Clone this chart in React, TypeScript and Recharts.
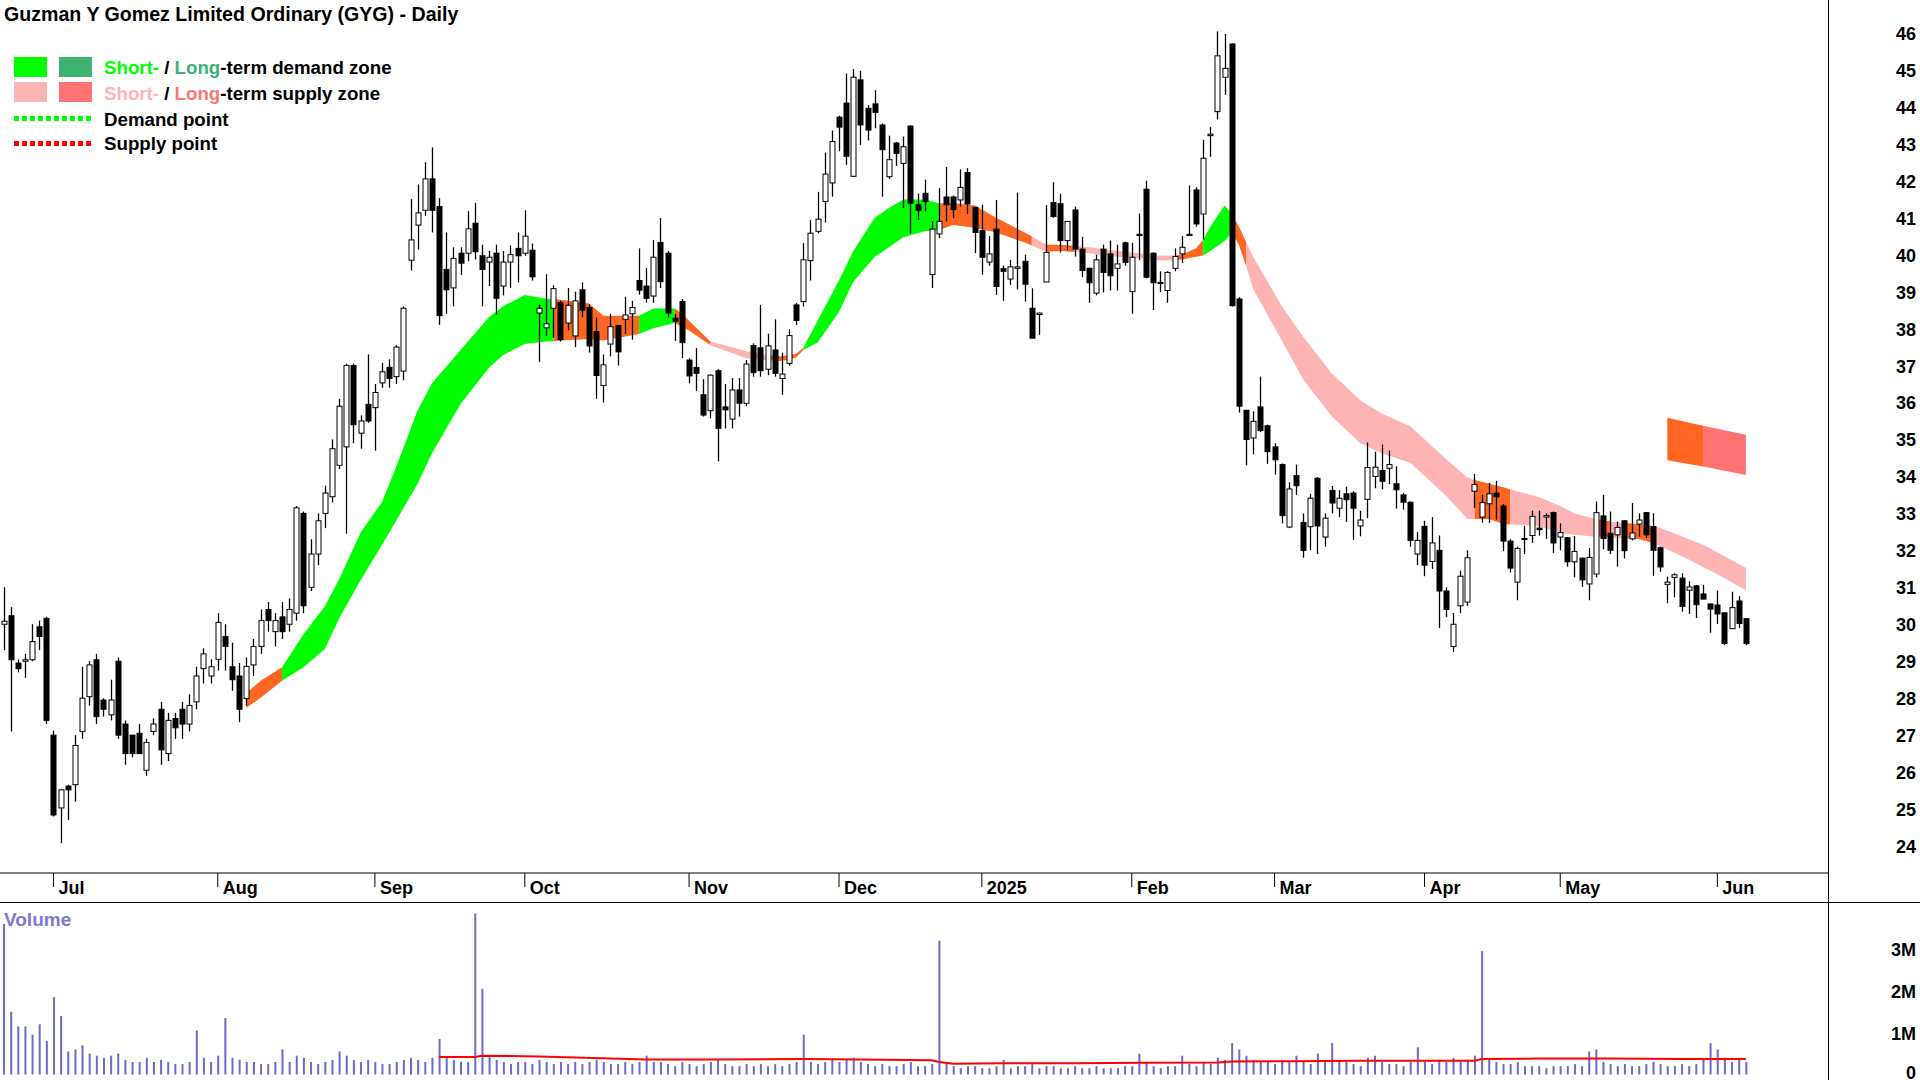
import React from "react";
import { Area, Bar, ComposedChart, Line, XAxis, YAxis } from "recharts";

const FONT = "'Liberation Sans', Arial, Helvetica, sans-serif";

// daily candles, 20 Jun 2024 .. 6 Jun 2025 (index = trading day)
const opens = [
  30.0, 30.23, 28.95, 29.0, 29.04, 29.93, 30.16, 27.0, 25.03, 25.62, 25.66, 27.1, 28.04, 29.04, 27.95, 27.55, 29.0, 27.3, 27.0, 27.05,
  26.05, 27.1, 27.7, 26.5, 27.45, 27.7, 27.3, 27.9, 28.8, 28.6, 29.05, 29.67, 28.85, 28.6, 27.99, 28.9, 29.4, 30.4, 29.8, 30.2,
  30.0, 30.3, 33.0, 31.0, 31.9, 33.0, 33.45, 34.3, 34.8, 37.0, 35.17, 35.95, 35.86, 36.53, 36.95, 36.7, 36.85, 39.85, 40.8, 41.2,
  42.05, 41.3, 39.6, 39.1, 40.04, 40.04, 40.85, 39.97, 39.8, 40.04, 39.15, 39.8, 40.17, 40.04, 40.12, 38.42, 38.02, 38.55, 38.7, 38.15,
  37.8, 39.05, 38.57, 37.92, 36.46, 37.58, 38.08, 38.25, 38.4, 39.3, 39.15, 38.88, 40.33, 40.04, 38.28, 38.73, 37.15, 36.95, 36.21, 35.78,
  36.86, 35.88, 35.55, 36.34, 35.98, 37.54, 37.48, 36.9, 37.42, 36.65, 37.06, 38.64, 38.73, 39.84, 40.63, 41.44, 41.94, 43.72, 44.1, 42.12,
  44.73, 43.96, 44.08, 43.51, 42.11, 43.02, 42.47, 43.48, 41.35, 41.66, 39.46, 40.56, 41.56, 41.56, 41.48, 42.22, 41.28, 40.65, 39.8, 40.69,
  39.62, 39.34, 39.63, 39.82, 38.55, 38.38, 39.26, 41.41, 41.38, 40.38, 41.21, 40.15, 39.63, 38.96, 40.15, 40.02, 39.63, 40.32, 39.0, 40.52,
  41.77, 40.04, 39.25, 39.03, 39.63, 40.02, 40.52, 41.75, 41.1, 43.22, 43.87, 44.8, 45.7, 38.8, 35.79, 35.04, 35.88, 35.37, 34.8, 34.32,
  32.63, 34.02, 32.75, 32.64, 33.95, 32.36, 33.62, 33.14, 33.53, 33.55, 32.66, 33.38, 34.0, 34.16, 34.22, 33.8, 33.5, 33.3, 31.9, 32.65,
  31.7, 32.0, 30.9, 29.4, 30.5, 30.6, 33.6, 32.9, 33.26, 33.55, 33.2, 32.25, 31.14, 32.3, 32.4, 32.6, 32.9, 33.02, 32.36, 32.34,
  31.69, 31.79, 31.09, 31.36, 32.93, 32.46, 32.42, 32.8, 32.31, 32.71, 33.02, 32.64, 32.07, 31.08, 31.27, 31.25, 30.92, 31.04, 30.82, 30.55,
  30.52, 30.31, 29.88, 30.63, 30.15,
];
const highs = [
  31.0, 30.46, 29.05, 29.2, 30.0, 30.1, 30.2, 27.12, 25.52, 25.66, 27.0, 28.85, 29.0, 29.2, 28.0, 28.5, 29.1, 27.4, 27.0, 27.3,
  26.9, 27.45, 27.9, 27.6, 27.6, 27.9, 28.1, 28.85, 29.35, 29.05, 30.3, 30.0, 29.5, 28.95, 29.1, 29.6, 30.4, 30.6, 30.3, 30.6,
  30.7, 33.2, 33.05, 32.3, 33.0, 33.75, 35.0, 36.1, 37.05, 37.05, 35.65, 37.3, 36.5, 37.07, 37.17, 37.55, 38.6, 41.5, 41.9, 42.5,
  42.9, 41.53, 40.6, 40.2, 40.2, 41.18, 41.4, 40.27, 40.1, 40.27, 40.1, 40.25, 40.6, 41.2, 40.3, 38.65, 39.47, 39.17, 38.75, 39.1,
  39.0, 39.25, 38.65, 38.3, 37.3, 38.4, 38.1, 38.86, 38.75, 40.17, 39.64, 40.4, 40.99, 40.1, 38.4, 38.8, 37.2, 37.47, 36.63, 36.76,
  36.9, 36.5, 36.66, 36.66, 37.15, 37.6, 38.64, 37.86, 38.25, 37.35, 37.98, 38.69, 40.31, 40.94, 41.7, 42.76, 43.36, 43.76, 44.9, 45.02,
  44.97, 44.05, 44.45, 43.55, 43.22, 43.05, 43.2, 43.5, 41.65, 42.03, 40.9, 41.8, 42.37, 41.6, 42.31, 42.34, 41.3, 41.35, 40.5, 41.48,
  39.7, 39.86, 41.68, 40.0, 39.09, 38.43, 41.34, 41.96, 41.65, 40.9, 41.3, 40.48, 39.65, 40.0, 40.27, 40.38, 40.27, 40.35, 40.32, 41.11,
  42.0, 40.06, 39.55, 39.55, 40.17, 40.5, 41.87, 41.82, 43.11, 43.45, 46.04, 45.97, 45.72, 38.85, 35.8, 35.76, 36.7, 35.4, 34.9, 34.35,
  33.84, 34.32, 33.0, 33.53, 33.98, 33.0, 33.74, 33.63, 33.72, 33.6, 33.07, 34.92, 34.67, 34.86, 34.7, 34.27, 33.55, 33.32, 32.5, 32.8,
  32.9, 32.4, 31.0, 30.3, 31.45, 32.0, 34.07, 33.5, 33.82, 33.88, 33.25, 32.3, 32.1, 32.66, 33.07, 33.07, 33.0, 33.05, 32.73, 32.36,
  32.39, 31.8, 32.06, 33.32, 33.5, 33.05, 32.78, 32.82, 33.28, 33.0, 33.03, 33.0, 32.1, 31.29, 31.38, 31.38, 31.16, 31.06, 31.06, 30.56,
  30.91, 30.32, 30.88, 30.76, 30.16,
];
const lows = [
  29.3, 27.1, 28.7, 28.55, 29.0, 29.3, 27.3, 24.8, 24.08, 24.7, 25.2, 26.9, 27.8, 27.3, 27.5, 27.4, 26.9, 26.2, 26.4, 26.5,
  25.9, 27.0, 26.2, 26.3, 26.9, 26.9, 27.1, 27.7, 28.4, 28.4, 28.75, 28.75, 28.2, 27.35, 27.8, 28.6, 29.2, 29.8, 29.4, 29.6,
  29.8, 30.1, 30.3, 30.9, 31.6, 32.6, 33.3, 34.2, 32.45, 34.9, 34.75, 35.45, 34.7, 36.4, 36.4, 36.5, 36.6, 39.57, 40.14, 41.05,
  40.6, 38.1, 38.4, 38.6, 39.45, 39.82, 39.87, 38.6, 39.15, 38.38, 38.9, 39.1, 39.25, 39.97, 39.3, 37.1, 37.8, 37.75, 37.65, 37.95,
  37.5, 38.3, 37.35, 36.1, 36.0, 37.25, 37.0, 37.85, 37.7, 38.92, 38.7, 38.7, 39.1, 38.3, 37.67, 37.2, 36.52, 36.31, 35.62, 35.57,
  34.41, 35.3, 35.3, 35.62, 35.9, 36.7, 36.7, 36.74, 36.7, 36.21, 37.0, 38.1, 38.6, 39.3, 40.58, 40.87, 41.57, 42.8, 42.43, 42.1,
  42.97, 43.09, 43.42, 41.57, 42.05, 42.4, 41.26, 40.58, 40.94, 41.17, 39.1, 40.45, 40.9, 40.99, 41.3, 41.1, 40.04, 39.46, 39.7, 38.91,
  38.75, 39.18, 39.06, 38.73, 37.74, 37.83, 39.26, 41.0, 40.06, 40.12, 39.95, 39.39, 38.7, 38.9, 38.98, 39.03, 39.03, 39.7, 38.4, 39.85,
  39.36, 38.5, 38.99, 38.7, 39.55, 39.77, 40.5, 40.76, 40.41, 42.65, 43.66, 44.32, 38.6, 35.73, 34.3, 34.6, 35.2, 34.34, 34.05, 32.73,
  32.6, 33.5, 31.8, 32.0, 31.9, 32.1, 33.0, 32.9, 32.77, 32.28, 32.38, 32.87, 33.68, 33.65, 33.79, 33.13, 33.1, 32.1, 31.6, 31.3,
  31.5, 29.9, 30.2, 29.25, 30.3, 30.5, 33.15, 32.75, 32.74, 32.83, 31.98, 31.4, 30.65, 31.9, 32.2, 32.4, 32.31, 31.93, 32.0, 31.56,
  31.27, 31.01, 30.65, 31.27, 32.03, 31.9, 31.56, 31.78, 32.27, 32.37, 32.33, 31.31, 31.42, 30.57, 30.73, 30.34, 30.28, 30.17, 30.68, 29.77,
  30.01, 29.44, 29.88, 29.9, 29.44,
];
const closes = [
  30.08, 29.04, 28.8, 29.04, 29.53, 29.67, 27.4, 24.84, 25.52, 25.52, 26.72, 28.0, 28.9, 27.5, 27.7, 27.95, 27.0, 26.5, 26.5, 26.5,
  26.8, 27.3, 26.6, 27.4, 27.2, 27.3, 27.8, 28.6, 29.2, 28.85, 30.05, 29.4, 28.5, 27.7, 28.86, 29.4, 30.1, 30.1, 30.1, 29.8,
  30.4, 33.15, 30.5, 31.9, 32.8, 33.55, 34.75, 35.9, 37.0, 35.4, 35.5, 35.5, 36.27, 36.83, 36.65, 37.5, 38.55, 40.4, 41.13, 42.05,
  41.2, 38.35, 39.05, 39.9, 39.77, 40.7, 40.08, 39.6, 39.93, 38.82, 39.8, 40.0, 39.97, 40.5, 39.4, 38.55, 38.13, 39.08, 37.7, 38.63,
  38.75, 38.5, 37.53, 36.73, 37.02, 38.05, 37.37, 38.37, 38.57, 39.04, 38.82, 39.93, 39.27, 38.42, 38.2, 37.62, 36.72, 36.79, 35.66, 36.74,
  35.3, 35.8, 36.34, 35.98, 37.04, 36.81, 36.86, 37.53, 36.79, 36.77, 37.81, 38.22, 39.86, 40.58, 40.96, 42.18, 43.06, 43.45, 42.66, 44.8,
  43.51, 43.37, 43.85, 42.84, 42.57, 42.74, 42.92, 41.39, 41.2, 41.44, 40.69, 40.9, 41.35, 41.22, 41.82, 41.37, 40.6, 39.93, 40.02, 39.14,
  39.55, 39.67, 39.67, 39.2, 37.74, 38.42, 40.06, 41.03, 40.38, 40.9, 40.15, 39.57, 39.24, 39.86, 39.52, 39.43, 39.75, 39.79, 39.93, 40.55,
  39.39, 39.24, 39.22, 39.52, 39.95, 40.2, 40.55, 40.83, 42.61, 43.26, 45.38, 45.04, 38.62, 35.9, 35.0, 35.49, 35.24, 34.67, 34.45, 32.94,
  33.66, 33.75, 32.0, 33.41, 32.66, 32.87, 33.28, 33.41, 33.37, 33.14, 32.82, 34.24, 34.25, 33.87, 34.32, 33.64, 33.3, 32.27, 32.27, 31.6,
  32.2, 30.9, 30.4, 30.0, 31.3, 31.8, 33.78, 33.29, 33.53, 33.45, 32.25, 31.52, 32.05, 32.32, 32.92, 32.56, 32.94, 32.2, 32.48, 31.69,
  31.97, 31.2, 31.81, 33.02, 32.32, 32.0, 32.62, 31.99, 32.47, 32.82, 32.42, 32.0, 31.55, 31.14, 31.34, 30.48, 31.01, 30.53, 30.68, 30.41,
  30.28, 29.48, 30.45, 30.02, 29.48,
];
// millions of shares
const volumes = [
  3.6, 1.5, 1.15, 1.15, 0.95, 1.2, 0.8, 1.85, 1.4, 0.55, 0.6, 0.7, 0.5, 0.45, 0.4, 0.45, 0.5, 0.35, 0.3, 0.3,
  0.4, 0.3, 0.35, 0.3, 0.25, 0.25, 0.3, 1.05, 0.4, 0.3, 0.45, 1.35, 0.4, 0.35, 0.3, 0.3, 0.25, 0.25, 0.3, 0.6,
  0.3, 0.45, 0.4, 0.3, 0.25, 0.3, 0.35, 0.55, 0.45, 0.35, 0.3, 0.35, 0.3, 0.25, 0.25, 0.3, 0.35, 0.4, 0.35, 0.3,
  0.4, 0.85, 0.4, 0.35, 0.3, 0.3, 3.85, 2.05, 0.45, 0.35, 0.3, 0.25, 0.3, 0.3, 0.25, 0.35, 0.3, 0.25, 0.3, 0.25,
  0.3, 0.25, 0.3, 0.35, 0.3, 0.25, 0.25, 0.3, 0.25, 0.3, 0.45, 0.3, 0.3, 0.25, 0.2, 0.3, 0.25, 0.2, 0.25, 0.3,
  0.35, 0.25, 0.2, 0.2, 0.25, 0.2, 0.25, 0.2, 0.25, 0.2, 0.25, 0.3, 0.95, 0.3, 0.25, 0.3, 0.35, 0.3, 0.35, 0.4,
  0.3, 0.25, 0.2, 0.25, 0.2, 0.2, 0.25, 0.3, 0.2, 0.2, 0.25, 3.2, 0.3, 0.2, 0.15, 0.2, 0.2, 0.15, 0.15, 0.2,
  0.35, 0.15, 0.2, 0.2, 0.25, 0.15, 0.2, 0.2, 0.15, 0.15, 0.2, 0.15, 0.15, 0.2, 0.15, 0.15, 0.15, 0.2, 0.2, 0.5,
  0.3, 0.2, 0.15, 0.2, 0.2, 0.45, 0.25, 0.2, 0.3, 0.25, 0.4, 0.35, 0.75, 0.6, 0.45, 0.35, 0.3, 0.3, 0.25, 0.35,
  0.3, 0.45, 0.3, 0.25, 0.5, 0.3, 0.75, 0.35, 0.3, 0.25, 0.2, 0.4, 0.45, 0.3, 0.25, 0.25, 0.2, 0.3, 0.65, 0.3,
  0.25, 0.35, 0.3, 0.4, 0.3, 0.35, 0.45, 2.95, 0.35, 0.3, 0.25, 0.25, 0.3, 0.2, 0.2, 0.2, 0.15, 0.2, 0.2, 0.2,
  0.25, 0.2, 0.55, 0.6, 0.3, 0.25, 0.2, 0.25, 0.2, 0.2, 0.25, 0.3, 0.25, 0.2, 0.2, 0.25, 0.2, 0.25, 0.35, 0.75,
  0.6, 0.4, 0.3, 0.35, 0.3,
];

const SLOTS = 256;
const monthStarts = [7, 30, 52, 73, 96, 117, 137, 158, 178, 199, 218, 240];
const monthNames = ["Jul", "Aug", "Sep", "Oct", "Nov", "Dec", "2025", "Feb", "Mar", "Apr", "May", "Jun"];
const priceTicks = [24, 25, 26, 27, 28, 29, 30, 31, 32, 33, 34, 35, 36, 37, 38, 39, 40, 41, 42, 43, 44, 45, 46];
const volumeTicks = [0, 1e6, 2e6, 3e6];

const GREEN = "#00ff00";
const DARK_GREEN = "#3cb371";
const ORANGE = "#ff6622";
const PINK = "#ffb4b4";
const SALMON = "#ff7373";

// short-term zone outline (read at these trading days)
const zoneIdx = [
  34, 36, 39, 42, 45, 47, 50, 53, 55, 58, 60, 64, 68, 70, 73, 76, 77, 78, 82, 84, 89, 91, 94, 95, 96, 99, 104, 107, 109, 111,
  112, 114, 117, 119, 122, 124, 126, 129, 131, 133, 136, 139, 143, 144, 146, 148, 150, 152, 156, 159, 162, 164, 165, 167, 168, 169,
  171, 172, 173, 174, 175, 179, 182, 186, 190, 193, 197, 202, 205, 206, 208, 210, 211, 215, 218, 220, 223, 225, 227, 229, 231, 232,
  236, 238, 240, 244,
];
const zoneHigh = [
  28.14, 28.47, 28.84, 29.73, 30.49, 31.22, 32.48, 33.31, 34.27, 35.79, 36.52, 37.42, 38.31, 38.61, 38.91, 38.81, 38.8, 38.78, 38.68, 38.35,
  38.35, 38.54, 38.54, 38.41, 38.21, 37.65, 37.39, 37.28, 37.25, 37.32, 37.48, 38.21, 39.31, 40.1, 41.0, 41.26, 41.49, 41.49, 41.39, 41.4,
  41.33, 41.0, 40.6, 40.5, 40.27, 40.27, 40.24, 40.2, 40.1, 40.04, 39.97, 39.98, 40.0, 40.17, 40.4, 40.76, 41.33, 41.1, 40.76, 40.35,
  39.94, 38.61, 37.78, 36.79, 36.06, 35.7, 35.36, 34.47, 33.97, 33.9, 33.81, 33.71, 33.65, 33.44, 33.2, 33.0, 32.85, 32.78, 32.74, 32.71,
  32.65, 32.61, 32.3, 32.15, 31.95, 31.52,
];
const zoneLow = [
  27.74, 28.01, 28.47, 28.84, 29.33, 30.16, 31.19, 32.15, 32.81, 33.81, 34.63, 35.96, 36.95, 37.29, 37.58, 37.65, 37.66, 37.68, 37.72, 37.68,
  37.85, 38.01, 38.15, 38.05, 37.95, 37.55, 37.2, 37.14, 37.12, 37.22, 37.42, 37.62, 38.45, 39.27, 39.94, 40.2, 40.47, 40.63, 40.67, 40.8,
  40.73, 40.6, 40.33, 40.25, 40.08, 40.1, 40.07, 40.04, 39.94, 39.9, 39.84, 39.85, 39.87, 39.94, 39.98, 40.1, 40.37, 40.6, 40.27, 39.7,
  39.07, 37.68, 36.62, 35.63, 34.9, 34.63, 34.37, 33.48, 32.85, 32.85, 32.85, 32.71, 32.7, 32.65, 32.47, 32.42, 32.37, 32.34, 32.32, 32.31,
  32.2, 32.12, 31.75, 31.55, 31.35, 30.92,
];
const zoneSegments: [number, number, string][] = [
  [34, 39, ORANGE], [39, 77, GREEN], [77, 89, ORANGE], [89, 94, GREEN], [94, 99, ORANGE], [99, 107, PINK],
  [107, 112, ORANGE], [112, 131, GREEN], [131, 144, ORANGE], [144, 146, PINK], [146, 150, ORANGE], [150, 164, PINK],
  [164, 168, ORANGE], [168, 172, GREEN], [172, 174, ORANGE], [174, 206, PINK], [206, 211, ORANGE], [211, 223, PINK],
  [223, 225, ORANGE], [225, 227, PINK], [227, 231, ORANGE], [231, 244, PINK],
];

// long-term supply zone
const ltIdx = [233, 238, 244];
const ltHigh = [35.59, 35.37, 35.13];
const ltLow = [34.44, 34.27, 34.04];
const ltSegments: [number, number, string][] = [[233, 238, ORANGE], [238, 244, SALMON]];

// average volume line (millions)
const avgVolIdx = [61, 66, 67, 75, 85, 90, 100, 112, 120, 130, 131, 133, 140, 150, 160, 170, 172, 180, 190, 200, 206, 207, 215, 225, 235, 244];
const avgVol = [0.42, 0.42, 0.45, 0.43, 0.38, 0.36, 0.36, 0.37, 0.36, 0.34, 0.3, 0.26, 0.27, 0.27, 0.28, 0.29, 0.31, 0.32, 0.33, 0.33, 0.33, 0.37, 0.38, 0.38, 0.37, 0.37];

const zoneAt = new Map(zoneIdx.map((d, k) => [d, [zoneLow[k], zoneHigh[k]]]));
const ltAt = new Map(ltIdx.map((d, k) => [d, [ltLow[k], ltHigh[k]]]));
const avgAt = new Map(avgVolIdx.map((d, k) => [d, avgVol[k] * 1e6]));

const rows = Array.from({ length: SLOTS }, (_, i) => {
  const row: any = { i };
  if (i < opens.length) {
    row.o = opens[i];
    row.h = highs[i];
    row.l = lows[i];
    row.c = closes[i];
    row.range = [lows[i], highs[i]];
    row.vol = volumes[i] * 1e6;
  }
  zoneSegments.forEach(([a, b], k) => {
    row["z" + k] = i >= a && i <= b && zoneAt.has(i) ? zoneAt.get(i) : null;
  });
  ltSegments.forEach(([a, b], k) => {
    row["s" + k] = i >= a && i <= b && ltAt.has(i) ? ltAt.get(i) : null;
  });
  row.avg = avgAt.has(i) ? avgAt.get(i) : null;
  return row;
});

function Candle(props: any) {
  const { x, y, width, height, payload } = props;
  if (!payload || payload.o == null) return <g />;
  const { o, h, l, c } = payload;
  const cx = Math.round(x + width / 2) + 0.5;
  const span = h - l;
  const py = (v: number) => (span > 0 ? y + ((h - v) / span) * height : y);
  const top = py(Math.max(o, c));
  const bot = py(Math.min(o, c));
  const up = c >= o;
  return (
    <g>
      <line x1={cx} x2={cx} y1={y} y2={y + height} stroke="#000" strokeWidth={1.3} />
      <rect
        x={cx - 2.5}
        y={top}
        width={5}
        height={Math.max(bot - top, 1)}
        fill={up ? "#fff" : "#000"}
        stroke="#000"
        strokeWidth={1}
      />
    </g>
  );
}

function MonthTick(props: any) {
  const { x, payload } = props;
  const k = monthStarts.indexOf(payload.value);
  if (k < 0) return <g />;
  return (
    <g>
      <line x1={x} x2={x} y1={873} y2={887} stroke="#000" strokeWidth={1} />
      <text x={x + 5} y={894} fontFamily={FONT} fontWeight="bold" fontSize={18} fill="#000">
        {monthNames[k]}
      </text>
    </g>
  );
}

function PriceTick(props: any) {
  const { y, payload } = props;
  return (
    <text x={1916} y={y + 7} textAnchor="end" fontFamily={FONT} fontWeight="bold" fontSize={18} fill="#000">
      {payload.value}
    </text>
  );
}

function VolTick(props: any) {
  const { y, payload } = props;
  const v = payload.value;
  return (
    <text
      x={1916}
      y={v === 0 ? 175 : y + 7}
      textAnchor="end"
      fontFamily={FONT}
      fontWeight="bold"
      fontSize={18}
      fill="#000"
    >
      {v === 0 ? "0" : v / 1e6 + "M"}
    </text>
  );
}

const legendText: React.CSSProperties = {
  position: "absolute",
  left: 104,
  fontFamily: FONT,
  fontWeight: "bold",
  fontSize: 18.7,
  lineHeight: "20px",
  color: "#000",
  whiteSpace: "nowrap",
};

function Swatch({ left, top, color }: { left: number; top: number; color: string }) {
  return <div style={{ position: "absolute", left, top, width: 33, height: 20, background: color }} />;
}

function DottedLine({ top, color }: { top: number; color: string }) {
  return (
    <div
      style={{
        position: "absolute",
        left: 14,
        top,
        width: 79,
        height: 5,
        backgroundImage: `repeating-linear-gradient(to right, ${color} 0 5px, transparent 5px 8px)`,
      }}
    />
  );
}

export default function App() {
  return (
    <div
      style={{
        position: "absolute",
        left: 0,
        top: 0,
        width: 1920,
        height: 1080,
        overflow: "hidden",
        background: "#fff",
        fontFamily: FONT,
      }}
    >
      <div style={{ position: "absolute", left: 0, top: 0 }}>
        <ComposedChart width={1920} height={905} data={rows} margin={{ top: 0, right: 0, bottom: 0, left: 0 }}>
          <XAxis
            dataKey="i"
            type="category"
            interval={0}
            height={32}
            tickLine={false}
            axisLine={{ stroke: "#000" }}
            tick={<MonthTick />}
          />
          <YAxis
            orientation="right"
            width={92}
            domain={[23.27, 46.89]}
            allowDataOverflow
            ticks={priceTicks}
            interval={0}
            tickLine={false}
            axisLine={false}
            tick={<PriceTick />}
          />
          {zoneSegments.map(([, , color], k) => (
            <Area
              key={"z" + k}
              dataKey={"z" + k}
              type="linear"
              stroke="none"
              fill={color}
              fillOpacity={1}
              connectNulls
              dot={false}
              activeDot={false}
              isAnimationActive={false}
            />
          ))}
          {ltSegments.map(([, , color], k) => (
            <Area
              key={"s" + k}
              dataKey={"s" + k}
              type="linear"
              stroke="none"
              fill={color}
              fillOpacity={1}
              connectNulls
              dot={false}
              activeDot={false}
              isAnimationActive={false}
            />
          ))}
          <Bar dataKey="range" barSize={5} shape={<Candle />} isAnimationActive={false} />
        </ComposedChart>
      </div>

      <div style={{ position: "absolute", left: 0, top: 904 }}>
        <ComposedChart width={1920} height={176} data={rows} margin={{ top: 0, right: 0, bottom: 0, left: 0 }}>
          <XAxis dataKey="i" type="category" hide />
          <YAxis
            orientation="right"
            width={92}
            domain={[-0.131e6, 4.076e6]}
            allowDataOverflow
            ticks={volumeTicks}
            interval={0}
            tickLine={false}
            axisLine={false}
            tick={<VolTick />}
          />
          <Bar dataKey="vol" barSize={2} fill="#6b6bcc" isAnimationActive={false} />
          <Line
            dataKey="avg"
            type="linear"
            stroke="#ff0000"
            strokeWidth={2}
            dot={false}
            activeDot={false}
            connectNulls
            isAnimationActive={false}
          />
        </ComposedChart>
      </div>

      {/* frame lines */}
      <div style={{ position: "absolute", left: 1828, top: 0, width: 1, height: 1080, background: "#000" }} />
      <div style={{ position: "absolute", left: 0, top: 902, width: 1920, height: 1, background: "#000" }} />

      {/* title and legend */}
      <div
        style={{
          position: "absolute",
          left: 4,
          top: 4,
          fontFamily: FONT,
          fontWeight: "bold",
          fontSize: 19.6,
          lineHeight: "20px",
          whiteSpace: "nowrap",
        }}
      >
        Guzman Y Gomez Limited Ordinary (GYG) - Daily
      </div>
      <div
        style={{
          position: "absolute",
          left: 4,
          top: 910,
          fontFamily: FONT,
          fontWeight: "bold",
          fontSize: 19,
          lineHeight: "20px",
          color: "#7b7bd0",
        }}
      >
        Volume
      </div>

      <Swatch left={14} top={57} color={GREEN} />
      <Swatch left={59} top={57} color={DARK_GREEN} />
      <div style={{ ...legendText, top: 58 }}>
        <span style={{ color: GREEN }}>Short-</span> / <span style={{ color: DARK_GREEN }}>Long</span>-term demand zone
      </div>
      <Swatch left={14} top={82} color={PINK} />
      <Swatch left={59} top={82} color={SALMON} />
      <div style={{ ...legendText, top: 84 }}>
        <span style={{ color: PINK }}>Short-</span> / <span style={{ color: SALMON }}>Long</span>-term supply zone
      </div>
      <DottedLine top={116} color={GREEN} />
      <div style={{ ...legendText, top: 110 }}>Demand point</div>
      <DottedLine top={141} color="#ff0000" />
      <div style={{ ...legendText, top: 134 }}>Supply point</div>
    </div>
  );
}
